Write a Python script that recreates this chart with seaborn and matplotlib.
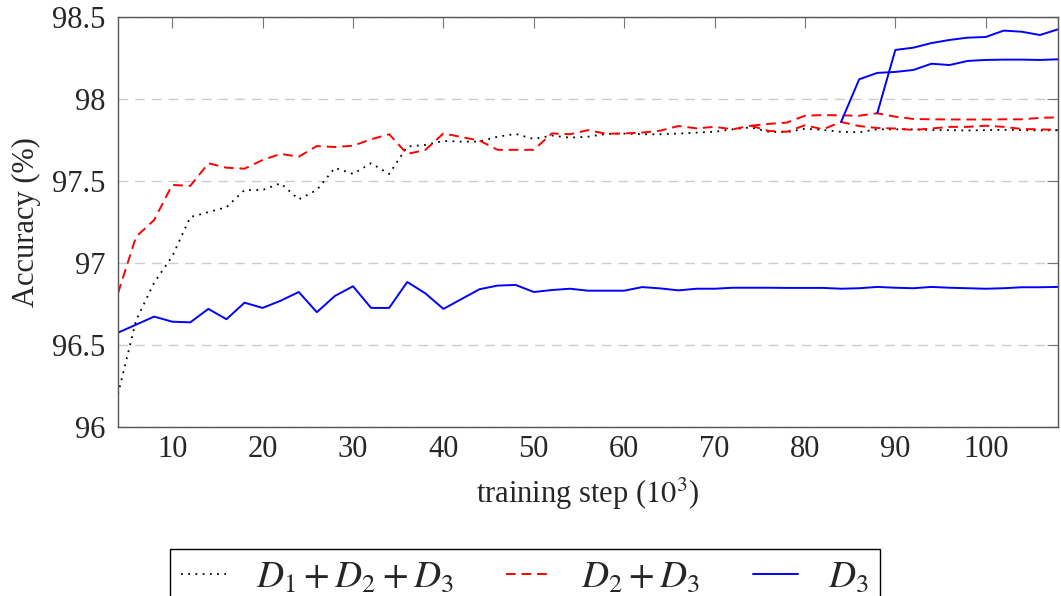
import matplotlib
matplotlib.use('Agg')
import matplotlib.pyplot as plt
import seaborn as sns
from matplotlib.lines import Line2D

# training steps (10^3)
steps = [4, 6, 8, 10, 12, 14, 16, 18, 20, 22, 24, 26, 28, 30, 32, 34, 36, 38,
         40, 42, 44, 46, 48, 50, 52, 54, 56, 58, 60, 62, 64, 66, 68, 70, 72, 74,
         76, 78, 80, 82, 84, 86, 88, 90, 92, 94, 96, 98, 100, 102, 104, 106, 108]

# D1 + D2 + D3 (black dotted)
acc_d123 = [96.2, 96.65, 96.88, 97.04, 97.28, 97.31, 97.34, 97.445, 97.445, 97.486,
            97.388, 97.445, 97.58, 97.543, 97.608, 97.543, 97.71, 97.72, 97.744, 97.74,
            97.74, 97.77, 97.787, 97.756, 97.777, 97.764, 97.77, 97.787, 97.789, 97.785,
            97.785, 97.789, 97.795, 97.80, 97.815, 97.827, 97.80, 97.797, 97.819, 97.811,
            97.80, 97.797, 97.815, 97.815, 97.815, 97.81, 97.81, 97.808, 97.81, 97.812,
            97.81, 97.808, 97.81]

# D2 + D3 (red dashed), main run up to step 74
steps_d23 = steps[:36]
acc_d23 = [96.815, 97.16, 97.262, 97.476, 97.47, 97.608, 97.581, 97.575, 97.628, 97.665,
           97.648, 97.713, 97.707, 97.715, 97.754, 97.785, 97.665, 97.689, 97.79, 97.768,
           97.746, 97.69, 97.69, 97.69, 97.79, 97.785, 97.81, 97.788, 97.79, 97.795,
           97.807, 97.835, 97.821, 97.83, 97.815, 97.837]
# two continuations from step 74
steps_d23_b = steps[35:]
acc_d23_up = [97.837, 97.848, 97.856, 97.898, 97.902, 97.90, 97.898, 97.913, 97.892,
              97.878, 97.876, 97.875, 97.875, 97.875, 97.876, 97.876, 97.885, 97.888]
acc_d23_low = [97.837, 97.805, 97.80, 97.84, 97.815, 97.86, 97.835, 97.823, 97.82,
               97.811, 97.82, 97.83, 97.83, 97.837, 97.83, 97.817, 97.815, 97.811]

# D3 (blue solid)
acc_d3 = [96.575, 96.624, 96.673, 96.642, 96.638, 96.72, 96.657, 96.758, 96.726, 96.77,
          96.823, 96.70, 96.799, 96.858, 96.726, 96.726, 96.884, 96.815, 96.72, 96.78,
          96.84, 96.862, 96.866, 96.823, 96.835, 96.843, 96.831, 96.831, 96.831, 96.853,
          96.845, 96.833, 96.843, 96.843, 96.849, 96.849, 96.849, 96.848, 96.848, 96.848,
          96.843, 96.846, 96.854, 96.849, 96.846, 96.854, 96.849, 96.846, 96.843, 96.846,
          96.852, 96.852, 96.854]
# D3 fine-tuned from the D2 + D3 checkpoints
steps_d3_a = steps[40:]
acc_d3_a = [97.86, 98.12, 98.159, 98.165, 98.177, 98.215, 98.207, 98.232, 98.238,
            98.24, 98.24, 98.238, 98.242]
steps_d3_b = steps[42:]
acc_d3_b = [97.913, 98.299, 98.313, 98.341, 98.36, 98.374, 98.378, 98.417, 98.41,
            98.39, 98.425]

yticks = [96, 96.5, 97, 97.5, 98, 98.5]
ytick_labels = ['96', '96.5', '97', '97.5', '98', '98.5']
xticks = [10, 20, 30, 40, 50, 60, 70, 80, 90, 100]

sns.set_style("white")
plt.rcParams['font.family'] = ['Liberation Serif', 'DejaVu Serif']
plt.rcParams['mathtext.fontset'] = 'stix'

fig = plt.figure(figsize=(10.61, 5.96), dpi=100)
ax = fig.add_axes([0.1112, 0.2836, 0.886, 0.6879])

dotted = (0, (1, 3))
dashed = (0, (5, 3))
lw = 1.4

sns.lineplot(x=steps, y=acc_d123, ax=ax, color='black', linestyle=dotted, linewidth=1.3)
sns.lineplot(x=steps_d23, y=acc_d23, ax=ax, color='red', linestyle=dashed, linewidth=lw)
sns.lineplot(x=steps_d23_b, y=acc_d23_up, ax=ax, color='red', linestyle=dashed, linewidth=lw)
sns.lineplot(x=steps_d23_b, y=acc_d23_low, ax=ax, color='red', linestyle=dashed, linewidth=lw)
sns.lineplot(x=steps, y=acc_d3, ax=ax, color='blue', linestyle='-', linewidth=lw)
sns.lineplot(x=steps_d3_a, y=acc_d3_a, ax=ax, color='blue', linestyle='-', linewidth=lw)
sns.lineplot(x=steps_d3_b, y=acc_d3_b, ax=ax, color='blue', linestyle='-', linewidth=lw)

ax.set_xlim(4, 108)
ax.set_ylim(96, 98.5)
ax.set_xticks(xticks)
ax.set_xticklabels([str(t) for t in xticks])
ax.set_yticks(yticks)
ax.set_yticklabels(ytick_labels)
ax.tick_params(axis='both', labelsize=22, direction='in', length=8, width=0.8,
               color='#777777', top=True, right=True)
ax.tick_params(axis='x', pad=6)
ax.tick_params(axis='y', pad=9)
ax.yaxis.grid(True, linestyle=(0, (7, 5)), color='#cccccc', linewidth=1.0)
ax.set_axisbelow(True)
for s in ax.spines.values():
    s.set_color('#555555')
    s.set_linewidth(1.0)

ax.set_xlabel('training step ($10^3$)', fontsize=22, labelpad=8)
ax.set_ylabel('Accuracy (%)', fontsize=22, labelpad=8)

handles = [Line2D([], [], color='black', linestyle=dotted, linewidth=1.3),
           Line2D([], [], color='red', linestyle=dashed, linewidth=lw),
           Line2D([], [], color='blue', linestyle='-', linewidth=lw)]
labels = ['$D_1+D_2+D_3$', '$D_2+D_3$', '$D_3$']
leg = fig.legend(handles, labels, loc='upper left', bbox_to_anchor=(170 / 1061, 1 - 549 / 596),
                 ncol=3, fontsize=27, frameon=True, fancybox=False, edgecolor='black',
                 framealpha=1, handlelength=1.2, handletextpad=0.8, columnspacing=1.4,
                 borderpad=0.3, borderaxespad=0)
leg.get_frame().set_linewidth(1.0)

fig.savefig('out.png', dpi=100)
